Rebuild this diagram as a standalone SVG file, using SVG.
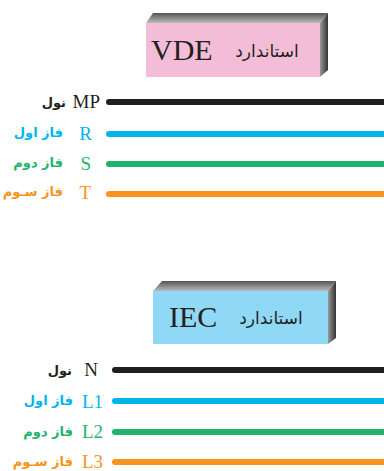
<svg xmlns="http://www.w3.org/2000/svg" width="384" height="471" viewBox="0 0 384 471">
<defs>
<linearGradient id="top" x1="0" y1="0" x2="0" y2="1"><stop offset="0" stop-color="#555"/><stop offset="1" stop-color="#bbb"/></linearGradient>
<linearGradient id="side" x1="0" y1="0" x2="1" y2="0"><stop offset="0" stop-color="#999"/><stop offset="1" stop-color="#333"/></linearGradient>
</defs>
<style>
.ln{stroke-width:6;stroke-linecap:round;fill:none}
.lat{font-family:"Liberation Serif",serif;font-size:19px}
.fa{font-family:"DejaVu Sans","Noto Sans",sans-serif;font-size:13px;font-weight:bold}
.big{font-family:"Liberation Serif",serif;font-size:30px;fill:#231f20}
.faBig{font-family:"DejaVu Sans","Noto Sans",sans-serif;font-size:17px;fill:#231f20}
</style>
<g id="vde-box">
<polygon points="146,23 153,13 328,13 320,23" fill="url(#top)"/>
<polygon points="320,23 328,13 328,70 320,77" fill="url(#side)"/>
<rect x="146" y="23" width="174" height="54" fill="#f4bdd7"/>
<text class="big" x="151" y="60">VDE</text>
<text class="faBig" x="267" y="57" text-anchor="middle" direction="rtl">استاندارد</text>
</g>
<g id="iec-box">
<polygon points="153,291 162,281 336,281 328,291" fill="url(#top)"/>
<polygon points="328,291 336,281 336,338 328,344" fill="url(#side)"/>
<rect x="153" y="291" width="175" height="53" fill="#8fd8f6"/>
<text class="big" x="169" y="327">IEC</text>
<text class="faBig" x="271" y="324" text-anchor="middle" direction="rtl">استاندارد</text>
</g>
<g id="connectors">
<line class="ln" x1="109" y1="102" x2="390" y2="102" stroke="#231f20"/>
<line class="ln" x1="109" y1="134" x2="390" y2="134" stroke="#00b5eb"/>
<line class="ln" x1="109" y1="164" x2="390" y2="164" stroke="#1fb36b"/>
<line class="ln" x1="109" y1="194" x2="390" y2="194" stroke="#f7941e"/>
<line class="ln" x1="115" y1="370" x2="390" y2="370" stroke="#231f20"/>
<line class="ln" x1="115" y1="401" x2="390" y2="401" stroke="#00b5eb"/>
<line class="ln" x1="115" y1="432" x2="390" y2="432" stroke="#1fb36b"/>
<line class="ln" x1="115" y1="462" x2="390" y2="462" stroke="#f7941e"/>
</g>
<g id="mp">
<text class="lat" x="100" y="108" text-anchor="end" fill="#231f20">MP</text>
<text class="fa" x="66" y="107" text-anchor="end" fill="#231f20">نول</text>
</g>
<g id="r">
<text class="lat" x="92" y="140" text-anchor="end" fill="#00b5eb">R</text>
<text class="fa" x="63" y="137" text-anchor="end" fill="#00b5eb">فاز اول</text>
</g>
<g id="s">
<text class="lat" x="91" y="170" text-anchor="end" fill="#1fb36b">S</text>
<text class="fa" x="63" y="167" text-anchor="end" fill="#1fb36b">فاز دوم</text>
</g>
<g id="t">
<text class="lat" x="91" y="199" text-anchor="end" fill="#f7941e">T</text>
<text class="fa" x="63" y="196" text-anchor="end" fill="#f7941e">فاز سـوم</text>
</g>
<g id="n">
<text class="lat" x="98" y="376" text-anchor="end" fill="#231f20">N</text>
<text class="fa" x="72" y="375" text-anchor="end" fill="#231f20">نول</text>
</g>
<g id="l1">
<text class="lat" x="103" y="408" text-anchor="end" fill="#00b5eb">L1</text>
<text class="fa" x="73" y="405" text-anchor="end" fill="#00b5eb">فاز اول</text>
</g>
<g id="l2">
<text class="lat" x="103" y="438" text-anchor="end" fill="#1fb36b">L2</text>
<text class="fa" x="73" y="436" text-anchor="end" fill="#1fb36b">فاز دوم</text>
</g>
<g id="l3">
<text class="lat" x="103" y="468" text-anchor="end" fill="#f7941e">L3</text>
<text class="fa" x="73" y="466" text-anchor="end" fill="#f7941e">فاز سـوم</text>
</g>
</svg>
